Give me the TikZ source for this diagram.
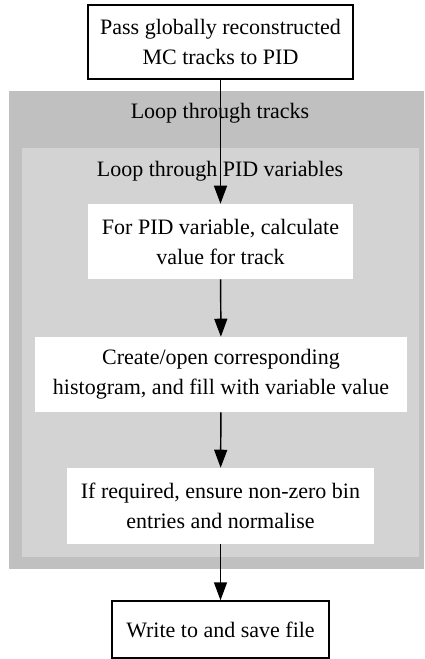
\documentclass[tikz,border=0pt]{standalone}
\usepackage{fontspec}
\setmainfont{Liberation Serif}
\usepackage{tikz}
\usetikzlibrary{arrows.meta}
\definecolor{trackloop}{HTML}{C0C0C0}
\definecolor{varloop}{HTML}{D3D3D3}

\begin{document}
\begin{tikzpicture}[x=0.75pt, y=-0.75pt,
        every node/.style={font=\fontsize{16.5}{22.5}\selectfont, align=center, inner sep=0pt},
        edgebox/.style={draw, line width=1.1pt, fill=white},
        fillbox/.style={fill=white},
        flow/.style={-{Triangle[length=13.5pt, width=9.75pt]}, line width=1.1pt}]
        \useasboundingbox (0, 0) rectangle (424, 659);

        % loop regions
        \fill[trackloop] (9, 91) rectangle (424, 569);
        \fill[varloop] (22, 148) rectangle (419, 557);
        \node[anchor=base] (trackLabel) at (220, 119) {Loop through tracks};
        \node[anchor=base] (varLabel) at (220, 176) {Loop through PID variables};

        % steps
        \node[edgebox, minimum width=198.75pt, minimum height=55.5pt] (pass) at (220.5, 42)
            {Pass globally reconstructed\\MC tracks to PID};
        \node[fillbox, minimum width=198.75pt, minimum height=56.25pt] (calc) at (220.5, 241.5)
            {For PID variable, calculate\\value for track};
        \node[fillbox, minimum width=279pt, minimum height=56.25pt] (fill) at (221, 374.5)
            {Create/open corresponding\\histogram, and fill with variable value};
        \node[fillbox, minimum width=230.25pt, minimum height=57pt] (norm) at (220.5, 506)
            {If required, ensure non-zero bin\\entries and normalise};
        \node[edgebox, minimum width=162.75pt, minimum height=42.75pt] (save) at (220.5, 629.5)
            {Write to and save file};

        \draw[flow] (pass) -- (calc);
        \draw[flow] (calc) -- (fill);
        \draw[flow] (fill) -- (norm);
        \draw[flow] (norm) -- (save);
    \end{tikzpicture}
\end{document}
